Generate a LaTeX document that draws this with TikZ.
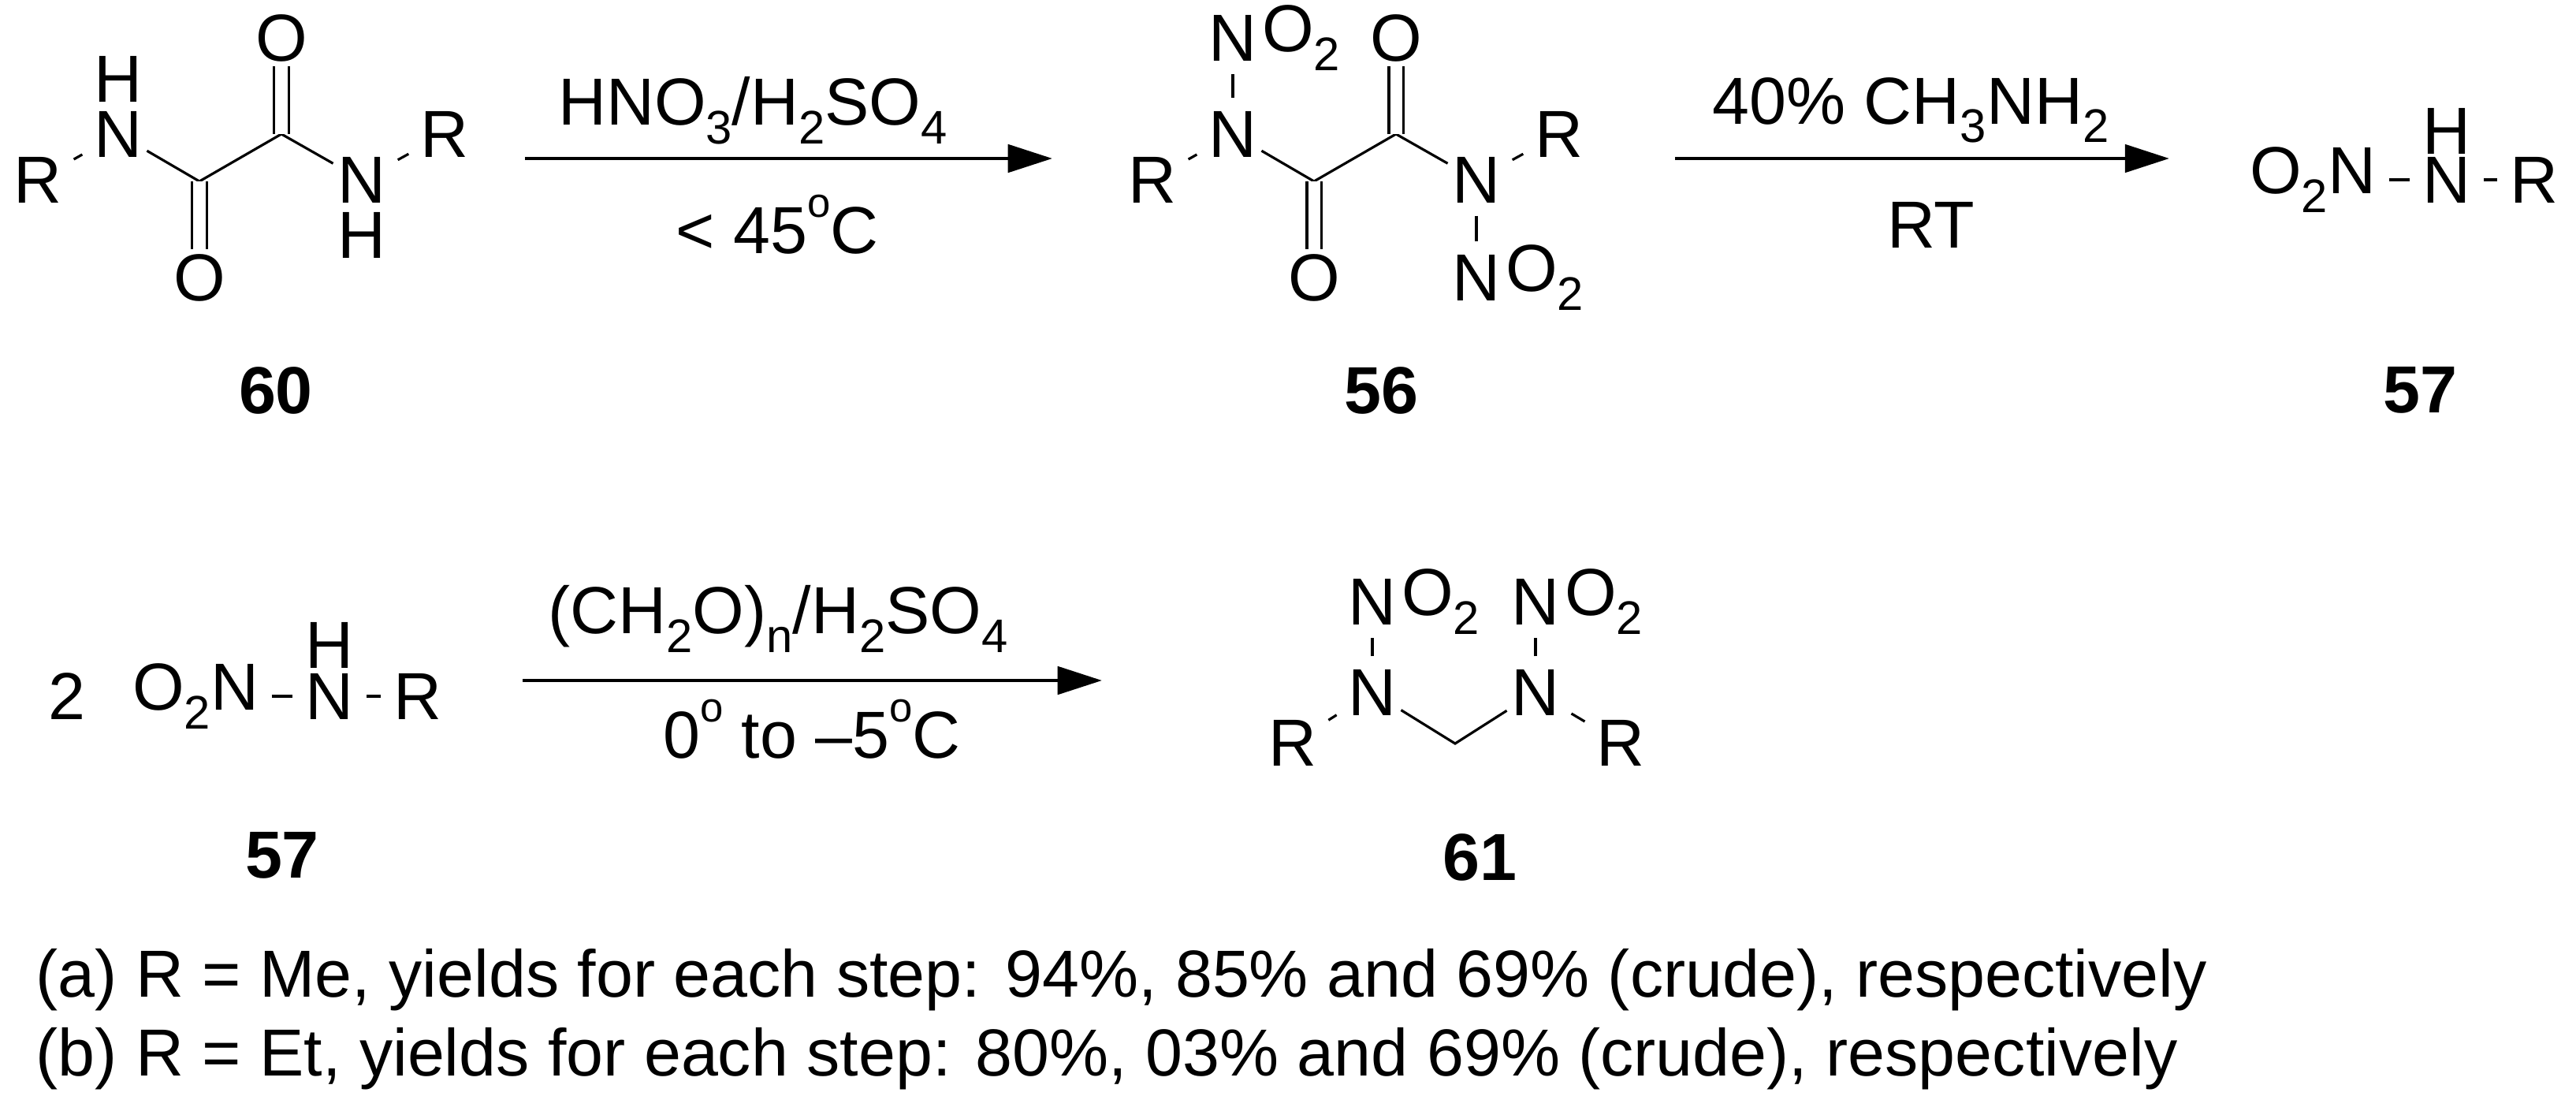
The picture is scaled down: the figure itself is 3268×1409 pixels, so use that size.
\documentclass[tikz,border=0pt]{standalone}
\usepackage{fontspec}
\setmainfont{Liberation Sans}
\usetikzlibrary{arrows.meta}
\newcommand{\chsub}[1]{\raisebox{-0.28em}{\fontsize{17}{17}\selectfont #1}}
\newcommand{\chdeg}{\raisebox{0.55em}{\fontsize{15}{15}\selectfont o}}
\begin{document}
\begin{tikzpicture}[x=0.01cm,y=-0.01cm,
  atom/.style={inner sep=1.5pt,font=\fontsize{24}{28}\selectfont},
  osub/.style={inner sep=1.5pt,inner xsep=0pt,anchor=west,font=\fontsize{24}{28}\selectfont},
  lbl/.style={inner sep=2pt,font=\fontsize{24}{28}\selectfont},
  num/.style={inner sep=2pt,font=\fontsize{24}{28}\selectfont\bfseries},
  bond/.style={line width=0.9pt},
  rbond/.style={line width=0.9pt,shorten <=3pt,shorten >=3pt},
  dbl/.style={line width=0.9pt,double,double distance=0.15cm},
  rxn/.style={line width=1.3pt,-{Triangle[length=16pt,width=10pt]}}]
\useasboundingbox (0,0) rectangle (3268,1409);
% ---- compound 60
\node[atom] (aR1) at (48,228) {R};
\node[atom] (aN1) at (150,170) {N};
\node[atom] (aH1) at (150,100) {H};
\coordinate (aC1) at (253,230);
\node[atom] (aO1) at (253,352) {O};
\coordinate (aC2) at (357,170);
\node[atom] (aO2) at (357,48) {O};
\node[atom] (aN2) at (459,228) {N};
\node[atom] (aH2) at (459,298) {H};
\node[atom] (aR2) at (564,170) {R};
\draw[rbond] (aR1) -- (aN1);
\draw[bond] (aN1) -- (aC1) -- (aC2) -- (aN2);
\draw[rbond] (aN2) -- (aR2);
\draw[dbl] (aC1) -- (aO1);
\draw[dbl] (aC2) -- (aO2);
\node[num] (n60) at (350,495) {60};
% ---- arrow 1
\coordinate (r1s) at (666,201);
\coordinate (r1e) at (1335,201);
\draw[rxn] (r1s) -- (r1e);
\node[lbl] (c1a) at (955,140) {HNO\chsub{3}/H\chsub{2}SO\chsub{4}};
\node[lbl] (c1b) at (986,285) {< 45\chdeg C};
% ---- compound 56
\node[atom] (bR1) at (1462,228) {R};
\node[atom] (bN1) at (1564,170) {N};
\node[atom] (bX1) at (1564,48) {N};
\node[osub] (bX1o) at (bX1.east) {O\chsub{2}};
\coordinate (bC1) at (1667,230);
\node[atom] (bO1) at (1667,352) {O};
\coordinate (bC2) at (1771,170);
\node[atom] (bO2) at (1771,48) {O};
\node[atom] (bN2) at (1873,228) {N};
\node[atom] (bX2) at (1873,352) {N};
\node[osub] (bX2o) at (bX2.east) {O\chsub{2}};
\node[atom] (bR2) at (1978,170) {R};
\draw[rbond] (bR1) -- (bN1);
\draw[bond] (bN1) -- (bC1) -- (bC2) -- (bN2);
\draw[rbond] (bN2) -- (bR2);
\draw[rbond] (bN1) -- (bX1);
\draw[rbond] (bN2) -- (bX2);
\draw[dbl] (bC1) -- (bO1);
\draw[dbl] (bC2) -- (bO2);
\node[num] (n56) at (1752,495) {56};
% ---- arrow 2
\coordinate (r2s) at (2125,201);
\coordinate (r2e) at (2752,201);
\draw[rxn] (r2s) -- (r2e);
\node[lbl] (c2a) at (2424,140) {40\% CH\chsub{3}NH\chsub{2}};
\node[lbl] (c2b) at (2450,285) {RT};
% ---- compound 57 (top)
\node[atom,anchor=east] (cO) at (3020,228) {O\chsub{2}N};
\node[atom] (cN) at (3104,228) {N};
\node[atom] (cH) at (3104,166) {H};
\node[atom] (cR) at (3215,228) {R};
\draw[rbond] (cO) -- (cN);
\draw[rbond] (cN) -- (cR);
\node[num] (n57a) at (3070,495) {57};
% ---- row 2: 2 x 57
\node[atom] (dTwo) at (85,883) {2};
\node[atom,anchor=east] (dO) at (334,883) {O\chsub{2}N};
\node[atom] (dN) at (418,883) {N};
\node[atom] (dH) at (418,818) {H};
\node[atom] (dR) at (530,883) {R};
\draw[rbond] (dO) -- (dN);
\draw[rbond] (dN) -- (dR);
\node[num] (n57b) at (358,1085) {57};
% ---- arrow 3
\coordinate (r3s) at (663,863);
\coordinate (r3e) at (1398,863);
\draw[rxn] (r3s) -- (r3e);
\node[lbl] (c3a) at (987,785) {(CH\chsub{2}O)\chsub{n}/H\chsub{2}SO\chsub{4}};
\node[lbl] (c3b) at (1030,925) {0\chdeg{} to \textendash5\chdeg C};
% ---- compound 61
\node[atom] (eR1) at (1640,942) {R};
\node[atom] (eN1) at (1741,878) {N};
\node[atom] (eX1) at (1741,763) {N};
\node[osub] (eX1o) at (eX1.east) {O\chsub{2}};
\coordinate (eC) at (1846,943);
\node[atom] (eN2) at (1948,878) {N};
\node[atom] (eX2) at (1948,763) {N};
\node[osub] (eX2o) at (eX2.east) {O\chsub{2}};
\node[atom] (eR2) at (2056,942) {R};
\draw[rbond] (eR1) -- (eN1);
\draw[bond] (eN1) -- (eC) -- (eN2);
\draw[rbond] (eN2) -- (eR2);
\draw[rbond] (eN1) -- (eX1);
\draw[rbond] (eN2) -- (eX2);
\node[num] (n61) at (1877,1087) {61};
% ---- footnotes
\node[lbl,anchor=west] (fa) at (38,1243) {(a) R = Me, yields for each step: 94\%, 85\% and 69\% (crude), respectively};
\node[lbl,anchor=west] (fb) at (38,1343) {(b) R = Et, yields for each step: 80\%, 03\% and 69\% (crude), respectively};
\end{tikzpicture}
\end{document}
